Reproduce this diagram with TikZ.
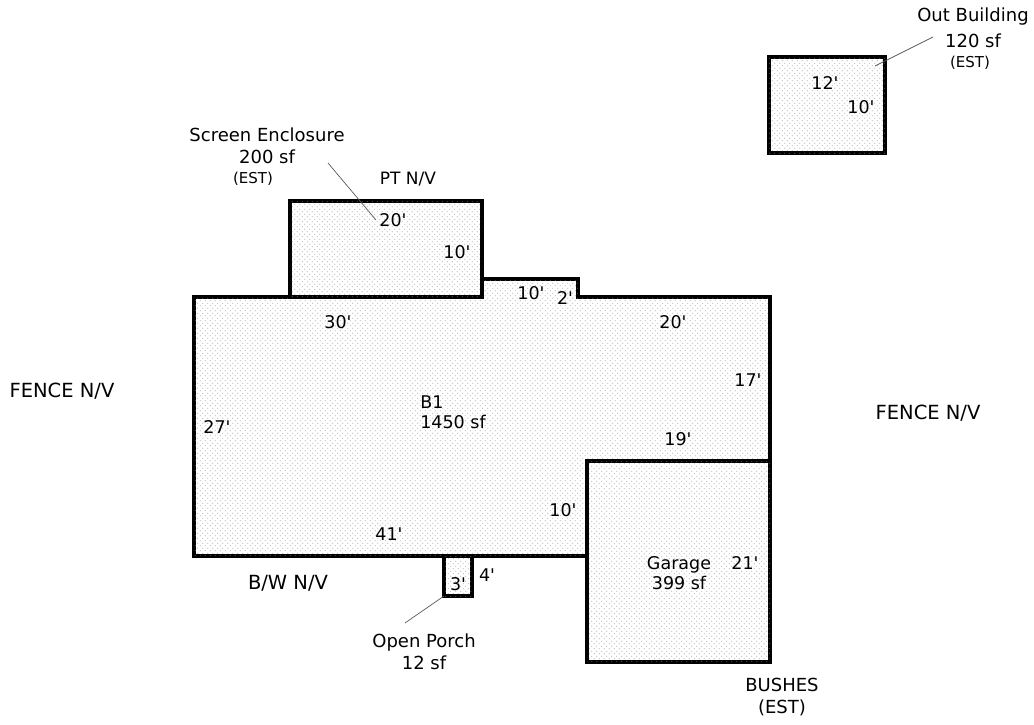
\documentclass[tikz,border=0pt]{standalone}
\usepackage{fontspec}
\setmainfont{DejaVu Sans}[Ligatures=TeXOff]
\usetikzlibrary{patterns}
\pgfdeclarepatternformonly{roomdots}{\pgfqpoint{0pt}{0pt}}{\pgfqpoint{5.4pt}{5.4pt}}{\pgfqpoint{5.4pt}{5.4pt}}{
  \pgfpathrectangle{\pgfqpoint{1pt}{1pt}}{\pgfqpoint{0.9pt}{0.9pt}}
  \pgfpathrectangle{\pgfqpoint{3.7pt}{3.7pt}}{\pgfqpoint{0.9pt}{0.9pt}}
  \pgfusepath{fill}
}
\tikzstyle{room} = [draw=black, line width=3.6pt, line join=miter, fill=white, postaction={pattern=roomdots, pattern color=black!46}]
\tikzstyle{boxroom} = [room, rectangle, inner sep=0pt, outer sep=0pt]
\tikzstyle{dim} = [inner sep=0pt, align=center, font=\fontsize{17.5}{20}\selectfont]
\tikzstyle{note} = [inner sep=0pt, align=center, font=\fontsize{18}{22}\selectfont]
\tikzstyle{small} = [inner sep=0pt, align=center, font=\fontsize{15}{16}\selectfont]
\tikzstyle{leader} = [draw=black!65, line width=0.7pt]

\begin{document}
\begin{tikzpicture}[x=1pt,y=-1pt]
\useasboundingbox (0,0) rectangle (1034,724);

\draw [room] (194,297) -- (482,297) -- (482,279) -- (578,279) -- (578,297) -- (770,297) -- (770,556) -- (194,556) -- cycle;
\node (enclosure) [boxroom, minimum width=192pt, minimum height=96pt] at (386,249) {};
\node (garage) [boxroom, minimum width=183pt, minimum height=201pt] at (678.5,561.5) {};
\node (porch) [boxroom, minimum width=28pt, minimum height=40pt] at (458,576) {};
\node (outbuilding) [boxroom, minimum width=116pt, minimum height=96pt] at (827,105) {};

\coordinate (enclosureend) at (376,220);
\coordinate (outend) at (875,66);
\coordinate (outfree) at (933,37);
\coordinate (enclosurefree) at (328,163);
\coordinate (porchfree) at (405,623);

\draw [leader] (enclosurefree) -- (enclosureend);
\draw [leader] (outfree) -- (outend);
\draw [leader] (porchfree) -- (porch.south west);

% labels
\node (enclosurelabel) [note] at (267,146) {Screen Enclosure\\200 sf};
\node (enclosureest) [small] at (253,179) {(EST)};
\node (ptnv) [small, font=\fontsize{17}{16}\selectfont] at (408,179) {PT N/V};
\node (outlabel) [note] at (973,28) {Out Building\\[4pt]120 sf};
\node (outest) [small] at (970,63) {(EST)};
\node (porchlabel) [note] at (424,652) {Open Porch\\12 sf};
\node (fenceleft) [note, font=\fontsize{19.5}{22}\selectfont] at (62,391) {FENCE N/V};
\node (fenceright) [note, font=\fontsize{19.5}{22}\selectfont] at (928,413) {FENCE N/V};
\node (bwnv) [note, font=\fontsize{19.5}{22}\selectfont] at (288,583) {B/W N/V};
\node (bushes) [note] at (782,697) {BUSHES\\(EST)};
\node (bonelabel) [dim, align=left] at (453,412) {B1\\1450 sf};
\node (garagelabel) [dim] at (679,573) {Garage\\399 sf};

\node (dimA) [dim] at (393,220) {20'};
\node (dimB) [dim] at (457,252) {10'};
\node (dimC) [dim] at (338,322) {30'};
\node (dimD) [dim] at (531,293) {10'};
\node (dimE) [dim] at (565,298) {2'};
\node (dimF) [dim] at (673,322) {20'};
\node (dimG) [dim] at (748,380) {17'};
\node (dimH) [dim] at (678,439) {19'};
\node (dimI) [dim] at (217,427) {27'};
\node (dimJ) [dim] at (563,510) {10'};
\node (dimK) [dim] at (389,534) {41'};
\node (dimL) [dim] at (745,563) {21'};
\node (dimM) [dim] at (458,584) {3'};
\node (dimN) [dim] at (487,575) {4'};
\node (dimO) [dim] at (825,83) {12'};
\node (dimP) [dim] at (861,107) {10'};

\end{tikzpicture}
\end{document}
